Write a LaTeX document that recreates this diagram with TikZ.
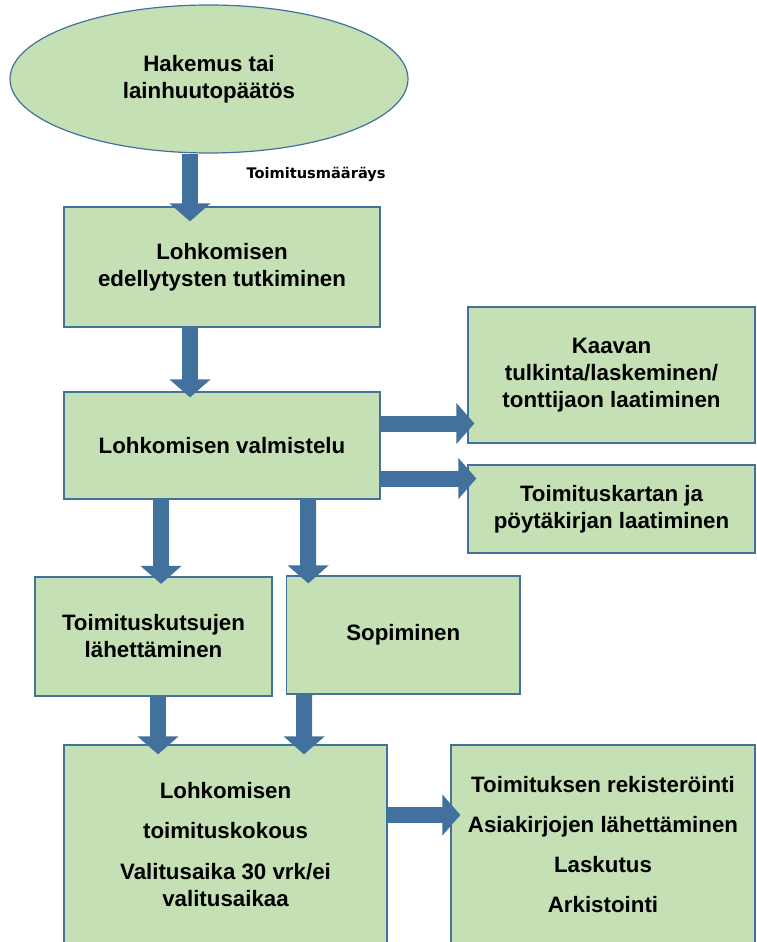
\documentclass[tikz,border=0pt]{standalone}
\usepackage{fontspec}
\setmainfont{Liberation Sans}
\newfontfamily\labelfont{DejaVu Sans}
\usetikzlibrary{arrows.meta,shapes.geometric}
\definecolor{boxfill}{RGB}{197,224,180}
\definecolor{boxline}{RGB}{65,113,156}
\definecolor{arrowblue}{RGB}{65,113,156}

\begin{document}
\begin{tikzpicture}[x=1pt, y=-1pt,
    stage/.style ={rectangle, draw=boxline, fill=boxfill, line width=1.2pt, inner sep=0pt,
                   align=center, font=\bfseries\fontsize{22.3}{27}\selectfont},
    start/.style ={ellipse, draw=boxline, fill=boxfill, line width=1.2pt, inner sep=0pt,
                   align=center, font=\bfseries\fontsize{22.3}{27}\selectfont},
    flow/.style ={draw=arrowblue, line width=16pt, -{Triangle[width=40pt,length=18pt]}}]
   \useasboundingbox (0,0) rectangle (756,942);
   \clip (0,0) rectangle (756,942);
   \node[start, minimum width=398pt, minimum height=148pt] (hakemus) at (209,79) {Hakemus tai\\lainhuutopäätös};
   \node[stage, minimum width=316pt, minimum height=120pt] (tutk) at (222,267) {Lohkomisen\\edellytysten tutkiminen};
   \node[stage, minimum width=316pt, minimum height=107pt] (valm) at (222,445.5) {Lohkomisen valmistelu};
   \node[stage, minimum width=287pt, minimum height=136pt] (kaava) at (611.5,375) {Kaavan\\tulkinta/laskeminen/\\tonttijaon laatiminen};
   \node[stage, minimum width=287pt, minimum height=88pt] (kartta) at (611.5,509) {Toimituskartan ja\\pöytäkirjan laatiminen};
   \node[stage, minimum width=237pt, minimum height=119pt] (kutsu) at (153.5,636.5) {Toimituskutsujen\\lähettäminen};
   \node[stage, minimum width=233.5pt, minimum height=118pt] (sopim) at (403.25,635) {Sopiminen};
   \node[stage, minimum width=323pt, minimum height=200pt] (kokous) at (225.5,845) {Lohkomisen\\[13pt]toimituskokous\\[14pt]Valitusaika 30 vrk/ei\\valitusaikaa};
   \node[stage, minimum width=304pt, minimum height=200pt] (rekis) at (603,845) {Toimituksen rekisteröinti\\[13pt]Asiakirjojen lähettäminen\\[13pt]Laskutus\\[13pt]Arkistointi};
   \node[anchor=base west, font=\labelfont\bfseries\fontsize{14.6}{17}\selectfont] (maarays) at (243,178) {Toimitusmääräys};
   \draw[flow] ([xshift=-19pt]hakemus.south) to ([xshift=-32pt,yshift=-15pt]tutk.north);
   \draw[flow] ([xshift=-32pt]tutk.south) to ([xshift=-32pt,yshift=-6pt]valm.north);
   \draw[flow] ([yshift=22pt]valm.east) to ([xshift=7pt,yshift=-48.5pt]kaava.west);
   \draw[flow] ([yshift=-33pt]valm.east) to ([xshift=9pt,yshift=30.5pt]kartta.west);
   \draw[flow] ([xshift=-61pt]valm.south) to ([xshift=7.5pt,yshift=-7.5pt]kutsu.north);
   \draw[flow] ([xshift=86pt]valm.south) to ([xshift=-95pt,yshift=-8pt]sopim.north);
   \draw[flow] ([xshift=4.5pt]kutsu.south) to ([xshift=-67.5pt,yshift=-10pt]kokous.north);
   \draw[flow] ([xshift=-99pt]sopim.south) to ([xshift=78.5pt,yshift=-10pt]kokous.north);
   \draw[flow] ([yshift=30pt]kokous.east) to ([xshift=10pt,yshift=30pt]rekis.west);
\end{tikzpicture}
\end{document}
